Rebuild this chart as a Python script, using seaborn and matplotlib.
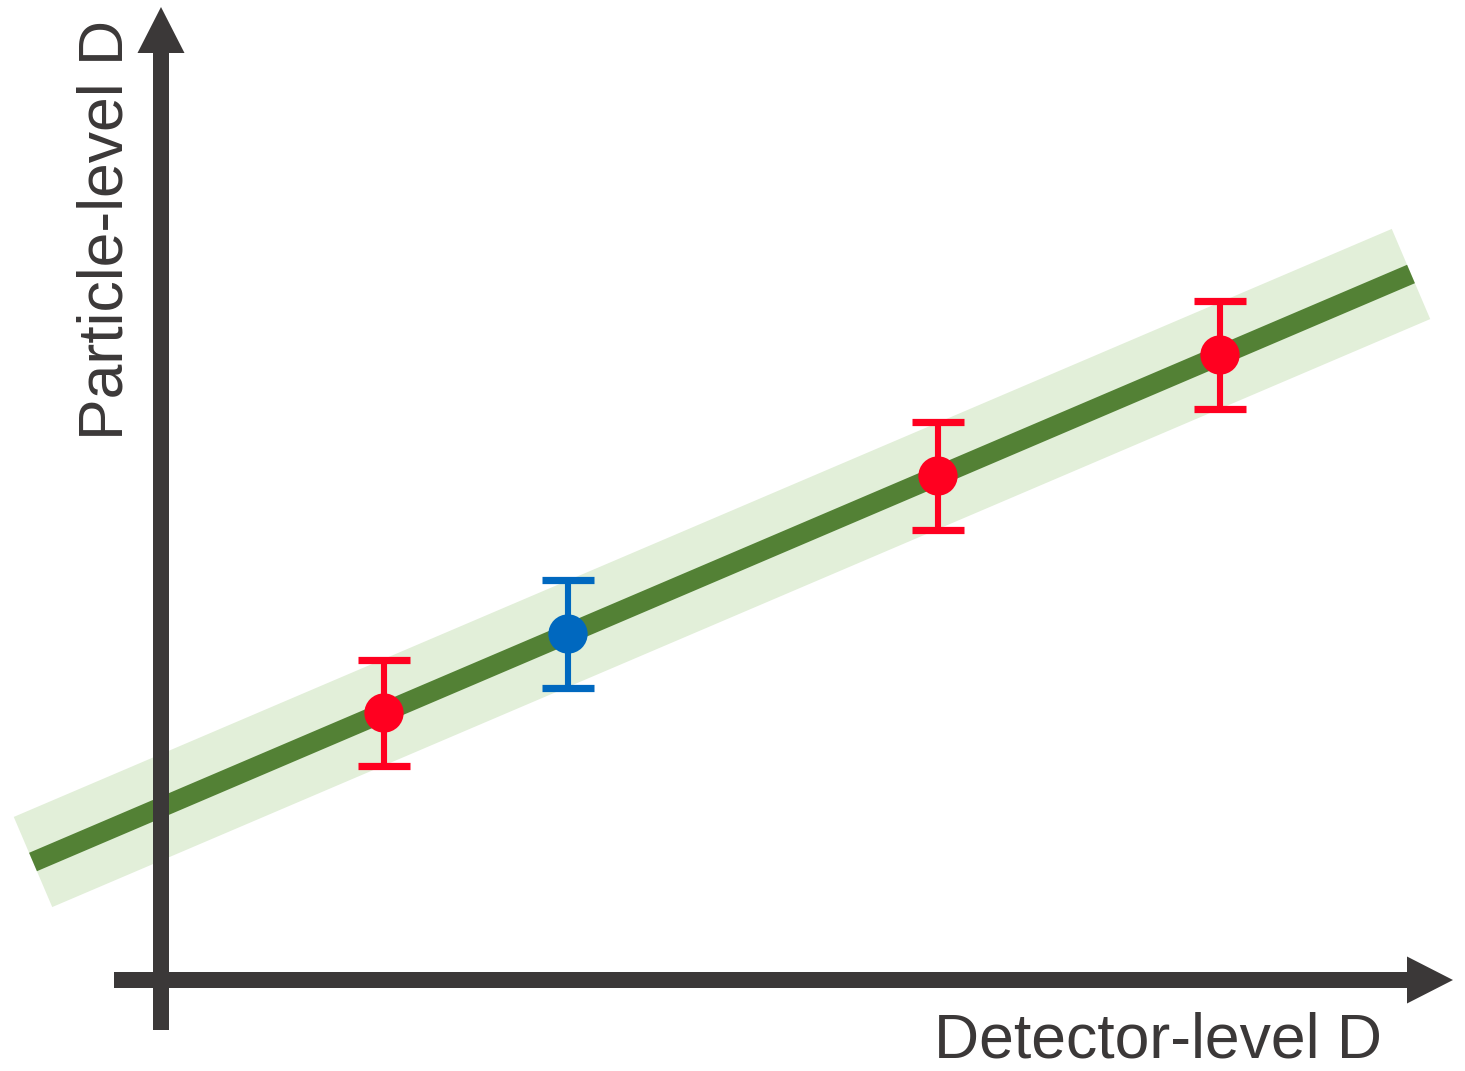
import numpy as np
import pandas as pd
import seaborn as sns
import matplotlib
matplotlib.use("Agg")
import matplotlib.pyplot as plt
from matplotlib.patches import FancyArrow, Polygon

# Calibration line (detector-level -> particle-level), drawn in canvas units
fit_x = [33, 1411]
fit_y = [862, 274]
band_halfwidth = 49

# Measured points with their uncertainties
pts_x = [384, 568, 938, 1220]
pts_y = [713, 634, 476, 355]
pts_err = [53, 54, 54, 54]
pts_kind = ["calib", "target", "calib", "calib"]

x_label = "Detector-level D"
y_label = "Particle-level D"

axis_color = "#3b3838"
line_color = "#538135"
band_color = "#e2efd9"
kind_colors = {"calib": "#ff0020", "target": "#0068bf"}

sns.set_theme(style="white")
plt.rcParams["font.family"] = ["Liberation Sans", "DejaVu Sans"]

fig = plt.figure(figsize=(14.65, 10.71), dpi=100)
ax = fig.add_axes([0, 0, 1, 1])
ax.set_xlim(0, 1465)
ax.set_ylim(1071, 0)
ax.set_axis_off()

# Uncertainty band around the calibration line
p0 = np.array([fit_x[0], fit_y[0]], dtype=float)
p1 = np.array([fit_x[1], fit_y[1]], dtype=float)
d = (p1 - p0) / np.linalg.norm(p1 - p0)
n = np.array([-d[1], d[0]])
band = np.array([p0 + n * band_halfwidth, p1 + n * band_halfwidth,
                 p1 - n * band_halfwidth, p0 - n * band_halfwidth])
ax.add_patch(Polygon(band, closed=True, facecolor=band_color,
                     edgecolor="none", zorder=1))

# Calibration line
line_df = pd.DataFrame({"x": fit_x, "y": fit_y})
sns.lineplot(data=line_df, x="x", y="y", ax=ax, color=line_color,
             linewidth=14.4, solid_capstyle="butt", zorder=2, sort=False)

# Axes arrows
ax.add_patch(FancyArrow(161, 1030, 0, -1023, width=16, head_width=47,
                        head_length=46, length_includes_head=True,
                        color=axis_color, linewidth=0, zorder=3))
ax.add_patch(FancyArrow(114, 980, 1339, 0, width=16, head_width=47,
                        head_length=46, length_includes_head=True,
                        color=axis_color, linewidth=0, zorder=3))

# Error bars and markers
pts_df = pd.DataFrame({"x": pts_x, "y": pts_y, "err": pts_err, "kind": pts_kind})
for _, r in pts_df.iterrows():
    ax.errorbar(r["x"], r["y"], yerr=r["err"], fmt="none",
                ecolor=kind_colors[r["kind"]], elinewidth=4.4,
                capsize=18.7, capthick=5.2, zorder=4)
sns.scatterplot(data=pts_df, x="x", y="y", hue="kind", palette=kind_colors,
                s=800, linewidth=0, legend=False, ax=ax, zorder=5)

# Axis titles
ax.text(1382, 1058, x_label, fontsize=45, color=axis_color,
        ha="right", va="baseline")
ax.text(123, 230, y_label, fontsize=45, color=axis_color, rotation=90,
        ha="center", va="baseline", rotation_mode="anchor")

fig.savefig("out.png", dpi=100)
